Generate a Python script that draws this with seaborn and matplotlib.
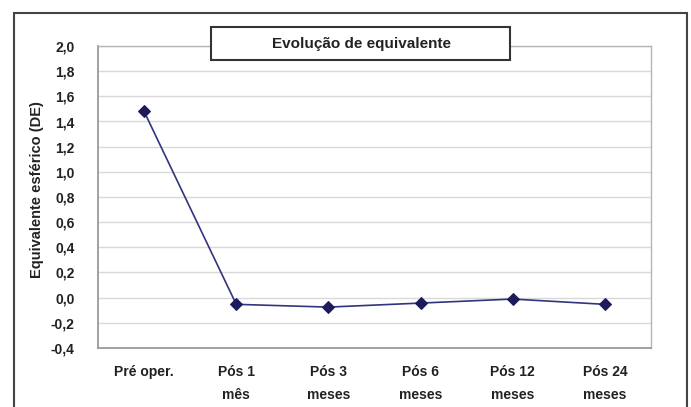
import pandas as pd
import numpy as np
import seaborn as sns
import matplotlib.pyplot as plt
import matplotlib.patches as mpatches
from matplotlib.ticker import FuncFormatter

# dados
periodos = ['Pré oper.', 'Pós 1\nmês', 'Pós 3\nmeses', 'Pós 6\nmeses', 'Pós 12\nmeses', 'Pós 24\nmeses']
equivalente = [1.48, -0.053, -0.075, -0.043, -0.011, -0.053]
yticks = [-0.4, -0.2, 0.0, 0.2, 0.4, 0.6, 0.8, 1.0, 1.2, 1.4, 1.6, 1.8, 2.0]

sns.set_style('white')
plt.rcParams['font.family'] = ['Liberation Sans', 'DejaVu Sans']

df = pd.DataFrame({'Periodo': periodos, 'Equivalente': equivalente})

W, H = 691, 407
fig = plt.figure(figsize=(W / 100, H / 100), dpi=100)
ax = fig.add_axes([98 / W, 1 - 348 / H, (651 - 98) / W, (348 - 46) / H])

sns.lineplot(data=df, x='Periodo', y='Equivalente', sort=False, ax=ax,
             color='#33337f', linewidth=1.2, marker='D', markersize=6,
             markerfacecolor='#1c1c5c', markeredgecolor='#1c1c5c')

ax.set_xlim(-0.5, len(periodos) - 0.5)
ax.set_ylim(-0.4, 2.0)
ax.set_yticks(yticks)
ax.yaxis.set_major_formatter(FuncFormatter(lambda v, p: f'{v:.1f}'.replace('.', ',')))
ax.set_xticks(range(len(periodos)))
ax.set_xticklabels(periodos, linespacing=1.85, va='top')
ax.set_xticks(np.arange(-0.5, len(periodos), 1.0), minor=True)
ax.tick_params(axis='x', which='major', length=0, pad=12)
ax.tick_params(axis='x', which='minor', length=5, color='#c8c8c8', width=1)
ax.tick_params(axis='y', length=0, pad=17)
for lab in ax.get_xticklabels() + ax.get_yticklabels():
    lab.set_fontweight('bold')
    lab.set_fontsize(10)
    lab.set_color('#222222')

ax.grid(axis='y', color='#d9d9d9', linewidth=1)
ax.set_axisbelow(True)
for s in ['left', 'bottom']:
    ax.spines[s].set_color('#9a9a9a')
    ax.spines[s].set_linewidth(1.3)
for s in ['top', 'right']:
    ax.spines[s].set_color('#b5b5b5')
    ax.spines[s].set_linewidth(1.0)

ax.set_xlabel('')
ax.set_ylabel('Equivalente esférico (DE)', fontsize=10.5, fontweight='bold',
              color='#222222')
ax.yaxis.set_label_coords(-0.098, 0.523)

# moldura externa
frame = mpatches.Rectangle((14 / W, -0.05), (687 - 14) / W, 1.05 - 13 / H,
                           transform=fig.transFigure, fill=False,
                           edgecolor='#444444', linewidth=1.5, clip_on=False)
fig.patches.append(frame)

# caixa do titulo
box = mpatches.Rectangle((211 / W, 1 - 60 / H), (510 - 211) / W, 33 / H,
                         transform=fig.transFigure, facecolor='white',
                         edgecolor='#333333', linewidth=1.5, zorder=5)
fig.patches.append(box)
fig.text(362 / W, 1 - 44 / H, 'Evolução de equivalente', ha='center',
         va='center', fontsize=11, fontweight='bold', color='#222222', zorder=6)

fig.savefig('out.png', dpi=100)
